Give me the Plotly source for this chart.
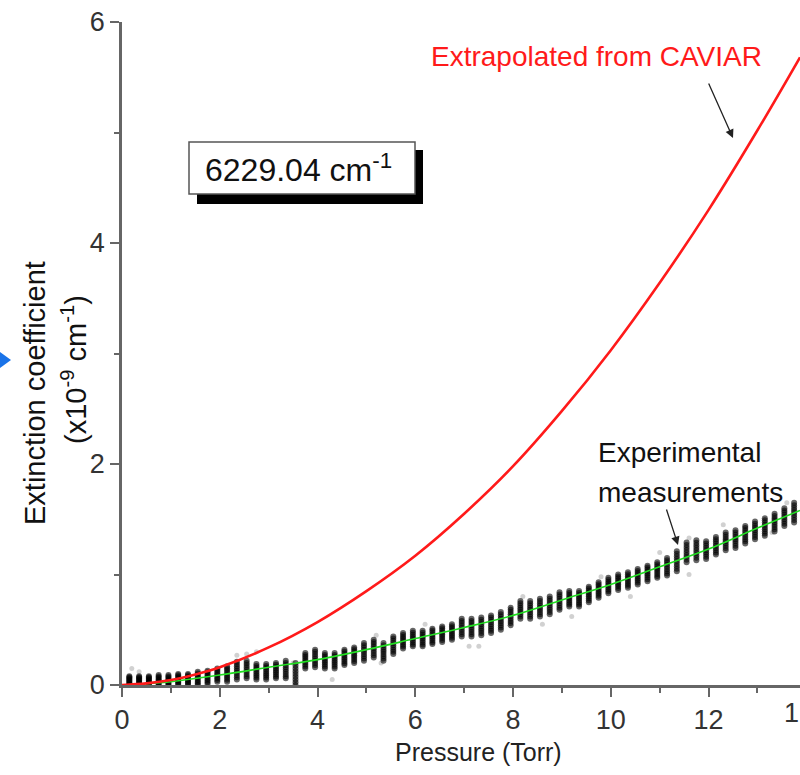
import plotly.graph_objects as go

# ---------------- data ----------------
# Red curve: extrapolated from CAVIAR (x1e-9 cm^-1)
caviar_p = [0, 0.5, 1, 1.5, 2, 3, 4, 5, 6, 7, 8, 9, 10, 11, 12, 13, 13.87]
caviar_k = [0, 0.015, 0.045, 0.095, 0.16, 0.34, 0.57, 0.85, 1.17, 1.55, 1.98, 2.48, 3.03, 3.64, 4.30, 5.02, 5.68]

# Green fit through experimental data
fit_p = [0, 1, 2, 3, 4, 5, 6, 7, 8, 9, 10, 11, 12, 13, 13.87]
fit_k = [0, 0.03, 0.09, 0.16, 0.23, 0.32, 0.42, 0.52, 0.63, 0.77, 0.91, 1.07, 1.23, 1.42, 1.58]

# Experimental measurement clusters (pressure, centre, half spread)
meas_p = [0.15, 0.35, 0.55, 0.75, 0.95, 1.15, 1.35, 1.55, 1.75, 1.95,
          2.15, 2.35, 2.55, 2.75, 2.95, 3.15, 3.35, 3.55, 3.75, 3.95,
          4.15, 4.35, 4.55, 4.75, 4.95, 5.15, 5.35, 5.55, 5.75, 5.95,
          6.15, 6.35, 6.55, 6.75, 6.95, 7.15, 7.35, 7.55, 7.75, 7.95,
          8.15, 8.35, 8.55, 8.75, 8.95, 9.15, 9.35, 9.55, 9.75, 9.95,
          10.15, 10.35, 10.55, 10.75, 10.95, 11.15, 11.35, 11.55, 11.75, 11.95,
          12.15, 12.35, 12.55, 12.75, 12.95, 13.15, 13.35, 13.55, 13.75]
meas_k = [0.04, 0.04, 0.04, 0.04, 0.04, 0.05, 0.05, 0.06, 0.07, 0.09,
          0.10, 0.13, 0.14, 0.12, 0.12, 0.13, 0.14, 0.10, 0.22, 0.24,
          0.22, 0.22, 0.25, 0.27, 0.30, 0.33, 0.30, 0.36, 0.40, 0.42,
          0.42, 0.44, 0.46, 0.48, 0.52, 0.52, 0.53, 0.55, 0.58, 0.62,
          0.68, 0.68, 0.70, 0.72, 0.76, 0.78, 0.78, 0.82, 0.86, 0.90,
          0.93, 0.95, 0.98, 1.01, 1.04, 1.07, 1.12, 1.20, 1.22, 1.22,
          1.26, 1.30, 1.32, 1.36, 1.40, 1.43, 1.47, 1.52, 1.56]
meas_s = [0.04, 0.04, 0.04, 0.05, 0.05, 0.05, 0.05, 0.06, 0.06, 0.06,
          0.07, 0.08, 0.08, 0.07, 0.07, 0.07, 0.08, 0.10, 0.07, 0.08,
          0.07, 0.07, 0.07, 0.07, 0.08, 0.08, 0.08, 0.08, 0.07, 0.07,
          0.07, 0.07, 0.07, 0.07, 0.08, 0.08, 0.08, 0.08, 0.08, 0.08,
          0.08, 0.08, 0.08, 0.08, 0.08, 0.07, 0.07, 0.07, 0.07, 0.07,
          0.07, 0.07, 0.07, 0.07, 0.07, 0.08, 0.09, 0.09, 0.09, 0.08,
          0.08, 0.08, 0.08, 0.08, 0.08, 0.08, 0.08, 0.08, 0.09]

# faint outlying points
faint_p = [0.2, 0.35, 2.35, 2.55, 2.75, 3.5, 4.3, 5.2, 5.3, 6.2, 7.1, 7.3,
           8.2, 9.2, 9.8, 11.0, 11.6, 11.6, 12.3, 13.3, 13.6, 10.4, 8.6]
faint_k = [0.15, 0.12, 0.27, 0.28, 0.30, 0.20, 0.05, 0.45, 0.20, 0.55, 0.35, 0.35,
           0.80, 0.62, 0.98, 1.20, 1.33, 1.00, 1.45, 1.38, 1.65, 0.80, 0.55]

x_ticks = [0, 2, 4, 6, 8, 10, 12, 14]
y_ticks = [0, 2, 4, 6]

# ---------------- build ----------------
streak_offsets = [-1, -0.75, -0.5, -0.25, 0, 0.25, 0.5, 0.75, 1]
sx, sy = [], []
for p, k, s in zip(meas_p, meas_k, meas_s):
    for o in streak_offsets:
        sx.append(p)
        sy.append(k + o * s)

fig = go.Figure()
fig.add_trace(go.Scatter(x=faint_p, y=faint_k, mode="markers",
                         marker=dict(size=5, color="rgba(0,0,0,0.18)"),
                         hoverinfo="skip", showlegend=False))
fig.add_trace(go.Scatter(x=sx, y=sy, mode="markers",
                         marker=dict(size=6, color="rgba(0,0,0,0.6)"),
                         showlegend=False))
fig.add_trace(go.Scatter(x=fit_p, y=fit_k, mode="lines", line_shape="spline",
                         line=dict(color="#22dd22", width=1.6), showlegend=False))
fig.add_trace(go.Scatter(x=caviar_p, y=caviar_k, mode="lines", line_shape="spline",
                         line=dict(color="#ff1a1a", width=2.6), showlegend=False))

L, T, W, H = 122, 22, 678, 663


def px(x):
    return (x - L) / W


def py(y):
    return (T + H - y) / H


reg = "Liberation Sans, Arial, sans-serif"


def label(x, y, text, size, color="#111", angle=0, xanchor="center"):
    return dict(xref="paper", yref="paper", x=px(x), y=py(y), text=text,
                xanchor=xanchor, yanchor="middle", textangle=angle, showarrow=False,
                font=dict(family=reg, size=size, color=color))


def arrow(x0, y0, x1, y1):
    return dict(xref="paper", yref="paper", x=px(x1), y=py(y1), ax=x0 - x1, ay=y0 - y1,
                xanchor="center", yanchor="middle", text="", showarrow=True,
                arrowhead=2, arrowsize=1.3, arrowwidth=1.3, arrowcolor="#222")


shapes = [
    # shadow of box
    dict(type="rect", xref="paper", yref="paper", x0=px(197), x1=px(423), y0=py(204), y1=py(150),
         fillcolor="black", line=dict(width=0)),
    dict(type="rect", xref="paper", yref="paper", x0=px(189), x1=px(415), y0=py(194), y1=py(142),
         fillcolor="white", line=dict(color="#555", width=1.5)),
    # blue marker at left edge
    dict(type="path", xref="paper", yref="paper",
         path=f"M {px(0)} {py(352)} L {px(11)} {py(360)} L {px(0)} {py(368)} Z",
         fillcolor="#1a73e8", line=dict(width=0)),
]

annotations = [
    label(298, 168, "6229.04 cm<sup>-1</sup>", 32),
    label(596, 56, "Extrapolated from CAVIAR", 28, color="#ff1a1a"),
    arrow(708, 82, 733, 138),
    label(596, 452, "Experimental", 28, xanchor="left"),
    label(596, 493, "measurements", 28, xanchor="left"),
    arrow(666, 508, 678, 545),
    label(35, 393, "Extinction coefficient", 29, angle=-90),
    label(74, 370, "(x10<sup>-9</sup> cm<sup>-1</sup>)", 29, angle=-90),
    label(478, 752, "Pressure (Torr)", 25, color="#222"),
    label(801, 713, "1", 27, color="#333", xanchor="right"),
]

axis_common = dict(showline=True, linecolor="#666", linewidth=2.5, ticks="outside",
                   tickcolor="#666", tickwidth=2, showgrid=False, zeroline=False,
                   tickfont=dict(family=reg, size=27, color="#333"))

fig.update_layout(
    width=800, height=775,
    margin=dict(l=L, r=0, t=T, b=775 - T - H, autoexpand=False),
    paper_bgcolor="white", plot_bgcolor="white",
    xaxis=dict(range=[0, 13.87], tickvals=x_ticks, ticklen=9,
               minor=dict(dtick=1, tick0=0, ticklen=5, ticks="outside", tickcolor="#666", tickwidth=2),
               **axis_common),
    yaxis=dict(range=[0, 6], tickvals=y_ticks, ticklen=9,
               minor=dict(dtick=1, tick0=0, ticklen=5, ticks="outside", tickcolor="#666", tickwidth=2),
               **axis_common),
    shapes=shapes, annotations=annotations, showlegend=False,
)

fig.write_html("out.html", config={"displayModeBar": False},
               post_script="document.body.style.margin='0';document.body.style.overflow='hidden';")
